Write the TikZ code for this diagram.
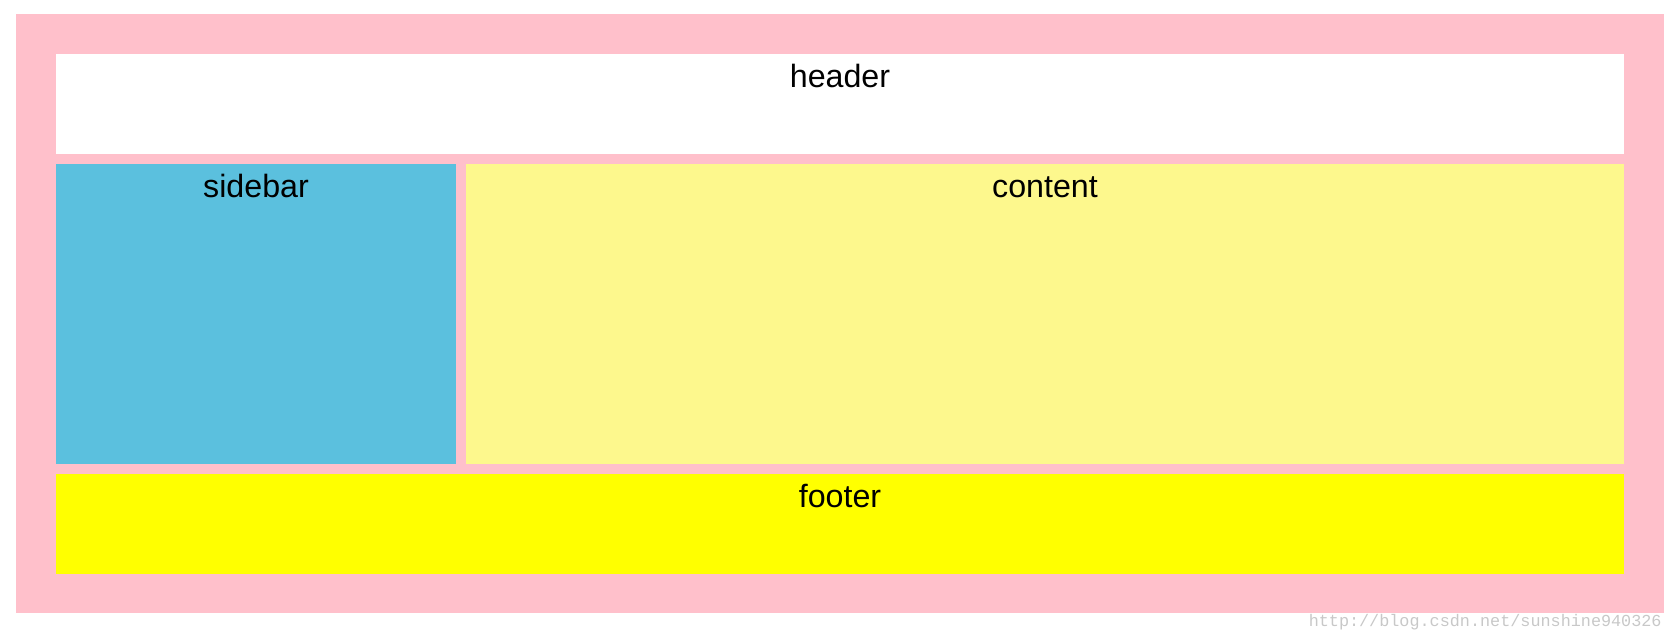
\documentclass[tikz,border=0pt]{standalone}
\usepackage{fontspec}
\setmainfont{Liberation Sans}
\newfontfamily\markfont{Liberation Mono}
\usetikzlibrary{positioning}
\definecolor{pink1}{RGB}{255, 192, 203}
\definecolor{blue1}{RGB}{91, 192, 222}
\definecolor{yellow1}{RGB}{253, 248, 141}
\definecolor{yellow2}{RGB}{255, 255, 0}
\definecolor{gray1}{RGB}{200, 200, 200}

\begin{document}
\begin{tikzpicture}[x=0.5pt, y=-0.5pt]
  \tikzset{
    block/.style={inner sep=0pt, outer sep=0pt, minimum width=#1},
    blocklabel/.style={anchor=base, inner sep=0pt, font=\fontsize{16.1}{19}\selectfont},
  }
  \useasboundingbox (0,0) rectangle (1674,640);

  % page and boxes
  \node[block=824pt, minimum height=299.5pt, fill=pink1] (page) at (840,313.5) {};
  \node[block=784pt, minimum height=50pt, fill=white] (header) at (840,104) {};
  \node[block=200pt, minimum height=150pt, fill=blue1] (sidebar) at (256,314) {};
  \node[block=579pt, minimum height=150pt, fill=yellow1] (content) at (1045,314) {};
  \node[block=784pt, minimum height=50pt, fill=yellow2] (footer) at (840,524) {};

  % labels
  \node[blocklabel] (headertext) at ([yshift=-17pt]header.north) {header};
  \node[blocklabel] (sidebartext) at ([yshift=-17pt]sidebar.north) {sidebar};
  \node[blocklabel] (contenttext) at ([yshift=-17pt]content.north) {content};
  \node[blocklabel] (footertext) at ([yshift=-17pt]footer.north) {footer};

  % watermark
  \node[anchor=base east, inner sep=0pt, text=gray1, font=\markfont\fontsize{8.4}{10}\selectfont] (mark) at (1662,626) {http://blog.csdn.net/sunshine940326};
\end{tikzpicture}
\end{document}
